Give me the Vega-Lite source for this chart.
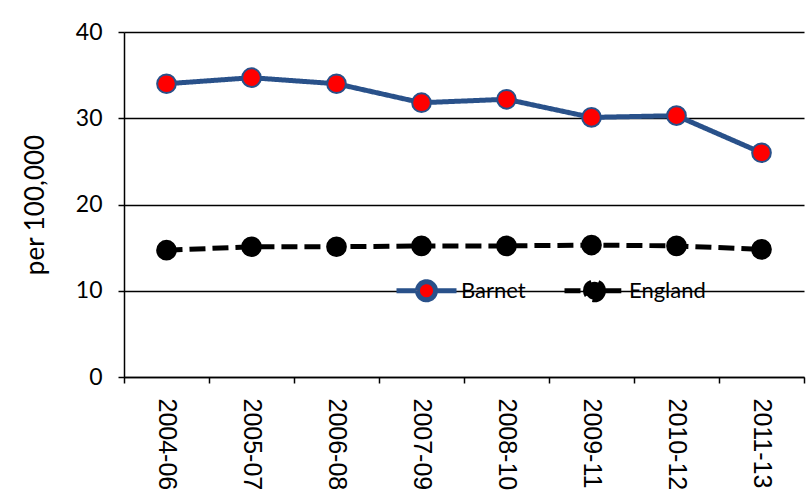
{
  "$schema": "https://vega.github.io/schema/vega-lite/v6.json",
  "width": 680,
  "height": 345,
  "autosize": {"type": "none"},
  "padding": {"left": 124, "top": 32, "right": 4, "bottom": 113},
  "background": "white",
  "data": {
    "values": [
      {"period": "2004-06", "series": "Barnet", "rate": 34.0},
      {"period": "2005-07", "series": "Barnet", "rate": 34.7},
      {"period": "2006-08", "series": "Barnet", "rate": 34.0},
      {"period": "2007-09", "series": "Barnet", "rate": 31.8},
      {"period": "2008-10", "series": "Barnet", "rate": 32.2},
      {"period": "2009-11", "series": "Barnet", "rate": 30.1},
      {"period": "2010-12", "series": "Barnet", "rate": 30.3},
      {"period": "2011-13", "series": "Barnet", "rate": 26.0},
      {"period": "2004-06", "series": "England", "rate": 14.7},
      {"period": "2005-07", "series": "England", "rate": 15.1},
      {"period": "2006-08", "series": "England", "rate": 15.1},
      {"period": "2007-09", "series": "England", "rate": 15.2},
      {"period": "2008-10", "series": "England", "rate": 15.2},
      {"period": "2009-11", "series": "England", "rate": 15.3},
      {"period": "2010-12", "series": "England", "rate": 15.2},
      {"period": "2011-13", "series": "England", "rate": 14.8}
    ]
  },
  "encoding": {
    "x": {
      "field": "period", "type": "nominal", "sort": null, "title": null,
      "scale": {"paddingInner": 0, "paddingOuter": 0},
      "axis": {
        "labelAngle": 90, "labelAlign": "left", "labelBaseline": "middle",
        "labelPadding": 15, "labelFont": "Liberation Sans", "labelFontSize": 25,
        "labelColor": "black", "tickBand": "extent", "tickSize": 6,
        "tickColor": "black", "tickWidth": 1.5, "domainColor": "black",
        "domainWidth": 1.5, "grid": false
      }
    },
    "y": {
      "field": "rate", "type": "quantitative",
      "scale": {"domain": [0, 40], "nice": false},
      "axis": {
        "values": [0, 10, 20, 30, 40], "title": "per 100,000",
        "titleFont": "Lato", "titleFontSize": 26, "titleFontWeight": "normal",
        "titleColor": "black", "titlePadding": 27,
        "labelFont": "Lato", "labelFontSize": 23, "labelColor": "black",
        "labelPadding": 16, "tickSize": 6, "tickColor": "black", "tickWidth": 1.5,
        "domainColor": "black", "domainWidth": 1.5,
        "grid": true, "gridColor": "black", "gridWidth": 1.5
      }
    }
  },
  "layer": [
    {
      "mark": {"type": "line", "strokeWidth": 5},
      "encoding": {
        "stroke": {
          "field": "series", "type": "nominal",
          "scale": {"domain": ["Barnet", "England"], "range": ["#29518A", "#000000"]}
        },
        "strokeDash": {
          "field": "series", "type": "nominal",
          "scale": {"domain": ["Barnet", "England"], "range": [[1, 0], [16, 7]]}
        }
      }
    },
    {
      "mark": {"type": "point", "filled": true, "size": 350, "strokeWidth": 2, "opacity": 1},
      "encoding": {
        "fill": {
          "field": "series", "type": "nominal",
          "scale": {"domain": ["Barnet", "England"], "range": ["#FF0000", "#000000"]}
        },
        "stroke": {
          "field": "series", "type": "nominal",
          "scale": {"domain": ["Barnet", "England"], "range": ["#29518A", "#000000"]}
        }
      }
    }
  ],
  "config": {
    "view": {"stroke": null},
    "legend": {
      "orient": "none",
      "legendX": 270,
      "legendY": 226,
      "direction": "horizontal",
      "title": null,
      "symbolType": "M-1,0L-0.36,0M0.36,0L1,0M0.3,0A0.3,0.3,0,1,1,-0.3,0A0.3,0.3,0,1,1,0.3,0Z",
      "symbolSize": 3600,
      "symbolStrokeWidth": 5,
      "labelFont": "Lato",
      "labelFontSize": 22,
      "labelColor": "black",
      "labelOffset": 2,
      "columnPadding": 28,
      "padding": 0
    }
  }
}
